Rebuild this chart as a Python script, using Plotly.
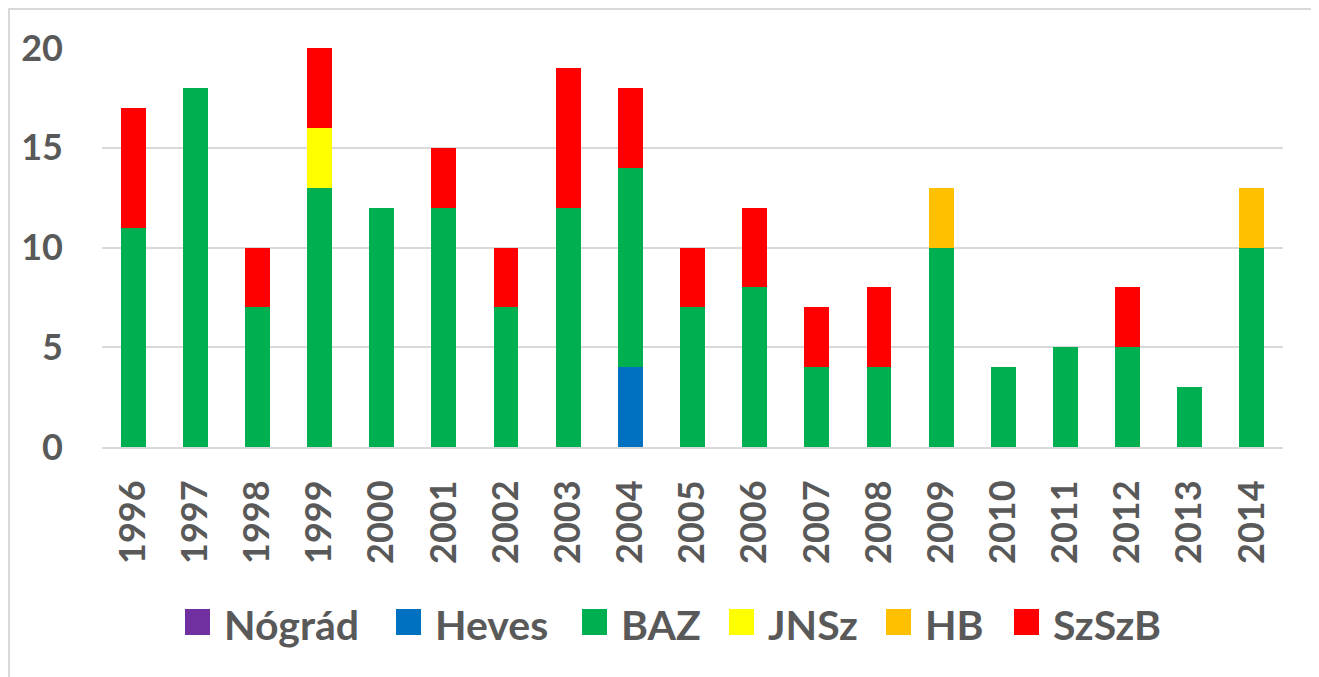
import plotly.graph_objects as go

years = [str(y) for y in range(1996, 2015)]

nograd = [0] * 19
heves = [0, 0, 0, 0, 0, 0, 0, 0, 4, 0, 0, 0, 0, 0, 0, 0, 0, 0, 0]
baz = [11, 18, 7, 13, 12, 12, 7, 12, 10, 7, 8, 4, 4, 10, 4, 5, 5, 3, 10]
jnsz = [0, 0, 0, 3, 0, 0, 0, 0, 0, 0, 0, 0, 0, 0, 0, 0, 0, 0, 0]
hb = [0, 0, 0, 0, 0, 0, 0, 0, 0, 0, 0, 0, 0, 3, 0, 0, 0, 0, 3]
szszb = [6, 0, 3, 4, 0, 3, 3, 7, 4, 3, 4, 3, 4, 0, 0, 0, 3, 0, 0]

series = [
    ("Nógrád", nograd, "#7030a0"),
    ("Heves", heves, "#0070c0"),
    ("BAZ", baz, "#00b050"),
    ("JNSz", jnsz, "#ffff00"),
    ("HB", hb, "#ffc000"),
    ("SzSzB", szszb, "#ff0000"),
]

# the page body has an 8px margin, so work in coordinates shifted by 8px
OFF = 8
W, H = 1319 - OFF, 677 - OFF
L, R, T, B = 102 - OFF, 1283 - OFF, 48 - OFF, 447 - OFF
FONT = "Lato"
GREY = "#595959"


def px(x):
    return (x - OFF - L) / (R - L)


def py(y):
    return (B - (y - OFF)) / (B - T)


fig = go.Figure()
for name, vals, color in series:
    fig.add_trace(go.Bar(x=years, y=vals, name=name,
                         marker=dict(color=color, line=dict(width=0)),
                         showlegend=False))

# hand-made legend so the swatches can be as big as in the original
legend_x = [185, 396, 582, 729, 886, 1014]
shapes = []
annotations = []
for (name, vals, color), lx in zip(series, legend_x):
    shapes.append(dict(type="rect", xref="paper", yref="paper",
                       x0=px(lx), x1=px(lx + 25), y0=py(609), y1=py(635),
                       fillcolor=color, line=dict(width=0)))
    annotations.append(dict(x=px(lx + 37), y=py(624), xref="paper", yref="paper",
                            text=f"<b>{name}</b>", showarrow=False,
                            xanchor="left", yanchor="middle",
                            font=dict(family=FONT, size=41, color=GREY)))

# outer frame (bottom edge runs off the picture, as in the original)
shapes.append(dict(type="rect", xref="paper", yref="paper",
                   x0=px(9), x1=px(1315), y0=py(700), y1=py(9),
                   line=dict(color="#d9d9d9", width=2), fillcolor="rgba(0,0,0,0)"))

fig.update_layout(
    width=W, height=H,
    margin=dict(l=L, r=W - R, t=T, b=H - B),
    barmode="stack",
    bargap=0.6,
    plot_bgcolor="white",
    paper_bgcolor="white",
    shapes=shapes,
    annotations=annotations,
    font=dict(family=FONT, color=GREY),
    xaxis=dict(
        tickangle=-90,
        tickfont=dict(family=FONT, size=36, color=GREY, weight="bold"),
        showgrid=False,
        showline=True, linecolor="#d9d9d9", linewidth=2,
        ticks="", ticklabelstandoff=17,
        fixedrange=True,
    ),
    yaxis=dict(
        range=[0, 20],
        tickvals=[0, 5, 10, 15, 20],
        tickfont=dict(family=FONT, size=36, color=GREY, weight="bold"),
        showgrid=True, gridcolor="#d9d9d9", gridwidth=2,
        zeroline=False, showline=False,
        ticks="", ticklabelstandoff=38,
        fixedrange=True,
    ),
)

fig.write_html("out.html")
